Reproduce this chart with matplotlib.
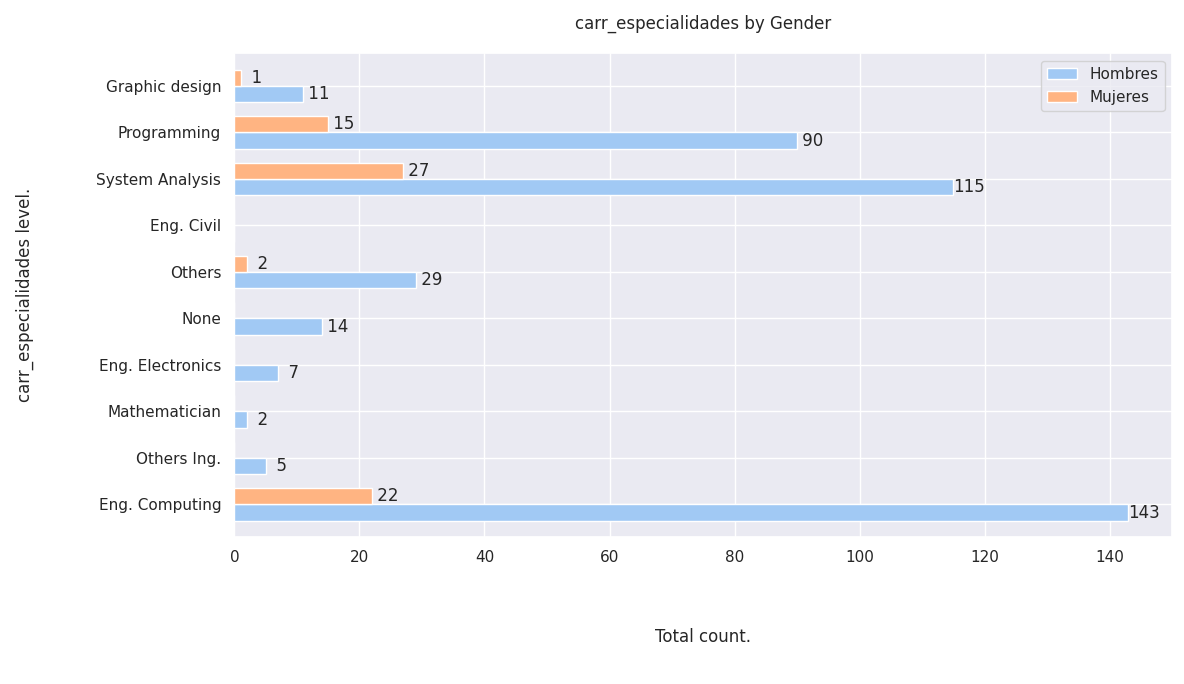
import numpy as np
import matplotlib
matplotlib.use("Agg")
import matplotlib.pyplot as plt
import seaborn as sns

categories = ["Eng. Computing", "Others Ing.", "Mathematician", "Eng. Electronics", "None",
              "Others", "Eng. Civil", "System Analysis", "Programming", "Graphic design"]
hombres = [143, 5, 2, 7, 14, 29, 0, 115, 90, 11]
mujeres = [22, 0, 0, 0, 0, 2, 0, 27, 15, 1]

sns.set_theme(style="darkgrid")
pal = sns.color_palette("pastel")

fig = plt.figure(figsize=(11.84, 6.84), dpi=100)
ax = fig.add_axes([0.198, 0.215, 0.792, 0.707])

y = np.arange(len(categories))
h = 0.35
b1 = ax.barh(y - h / 2, hombres, height=h, color=pal[0], label="Hombres")
b2 = ax.barh(y + h / 2, mujeres, height=h, color=pal[1], label="Mujeres")
for bars, vals in ((b1, hombres), (b2, mujeres)):
    ax.bar_label(bars, labels=[f"{v:>3}" if v else "" for v in vals], fontsize=12)

ax.set_yticks(y)
ax.set_yticklabels(categories)
ax.set_xlim(0, 150)
ax.set_ylim(-0.7, 9.7)
ax.set_xlabel("Total count.", labelpad=45)
ax.set_ylabel("carr_especialidades level.", labelpad=45)
ax.set_title("carr_especialidades by Gender", pad=18)
ax.legend(loc="upper right")

fig.savefig("out.png")
